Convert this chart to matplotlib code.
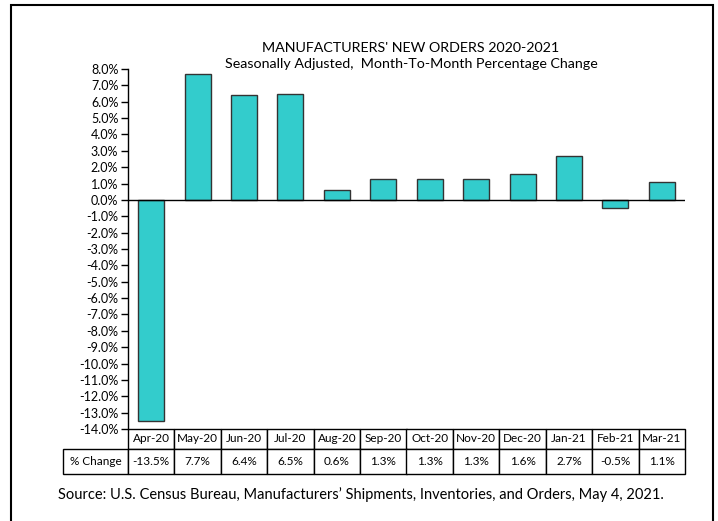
import matplotlib
matplotlib.use("Agg")
import matplotlib.pyplot as plt
from matplotlib.patches import Rectangle
import numpy as np

# data
months = ["Apr-20", "May-20", "Jun-20", "Jul-20", "Aug-20", "Sep-20",
          "Oct-20", "Nov-20", "Dec-20", "Jan-21", "Feb-21", "Mar-21"]
pct_change = [-13.5, 7.7, 6.4, 6.5, 0.6, 1.3, 1.3, 1.3, 1.6, 2.7, -0.5, 1.1]
row_label = "% Change"
title = "MANUFACTURERS' NEW ORDERS 2020-2021\nSeasonally Adjusted,  Month-To-Month Percentage Change"
source = "Source: U.S. Census Bureau, Manufacturers\u2019 Shipments, Inventories, and Orders, May 4, 2021."

plt.rcParams['font.family'] = ['Lato', 'DejaVu Sans']

W, H = 718, 521
fig = plt.figure(figsize=(W / 100, H / 100), dpi=100)

# plot area in pixels: left 128, right 685, top 69, bottom 429
ax = fig.add_axes([128 / W, (H - 429) / H, 557 / W, 360 / H])

x = np.arange(len(months))
ax.bar(x, pct_change, width=0.56, color="#33CCCC", edgecolor="#333333", linewidth=1, zorder=3)
ax.axhline(0, color="black", linewidth=1, zorder=4)

ax.set_xlim(-0.5, len(months) - 0.5)
ax.set_ylim(-14, 8)
ax.set_yticks(np.arange(-14, 9, 1))
ax.set_yticklabels(["%.1f%%" % v for v in np.arange(-14, 9, 1)], fontsize=9)
ax.tick_params(axis="y", direction="out", length=5, width=1, pad=2)
ax.set_xticks([])
for s in ["top", "right", "bottom"]:
    ax.spines[s].set_visible(False)
ax.spines["left"].set_linewidth(1)

# data table under the plot
cell_text = [[""] + months, [row_label] + ["%.1f%%" % v for v in pct_change]]
first_w = 65
col_w = 557 / len(months)
total_w = first_w + col_w * len(months)
widths = [first_w / total_w] + [col_w / total_w] * len(months)
tbl = ax.table(cellText=cell_text, colWidths=widths, cellLoc="center",
               bbox=[-first_w / 557, -45 / 360, total_w / 557, 45 / 360])
tbl.auto_set_font_size(False)
tbl.set_fontsize(8.5)
for (r, c), cell in tbl.get_celld().items():
    cell.set_linewidth(1)
    cell.set_edgecolor("black")
    cell.set_height(20 if r == 0 else 25)
tbl[(0, 0)].visible_edges = ""

fig.text(411 / W, 1 - 56 / H, title, ha="center", va="center", fontsize=10.3, linespacing=1.45)
fig.text(361 / W, 1 - 495 / H, source, ha="center", va="center", fontsize=10.5)

# outer frame
fig.patches.append(Rectangle((11 / W, -0.05), (713 - 11) / W, 0.05 + (H - 5) / H,
                             transform=fig.transFigure, fill=False,
                             edgecolor="black", linewidth=1.5))

fig.savefig("out.png", dpi=100)
